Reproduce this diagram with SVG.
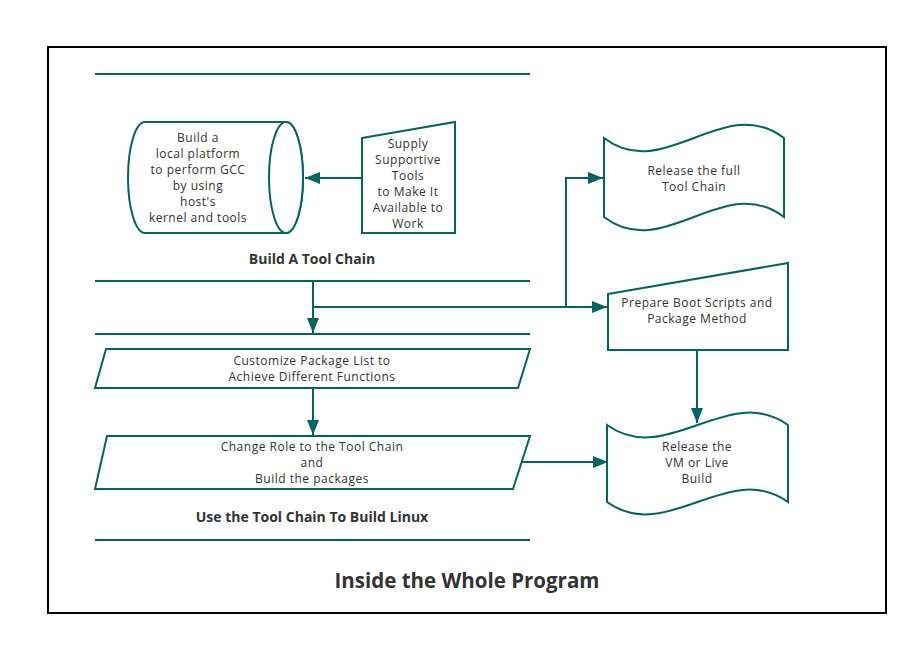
<svg xmlns="http://www.w3.org/2000/svg" width="918" height="646" viewBox="0 0 918 646">
<defs>
<style>
.s{fill:#fff;stroke:#00665f;stroke-width:2}
.ln{fill:none;stroke:#00665f;stroke-width:2}
.t{font-family:"Open Sans","Noto Sans",sans-serif;font-size:12px;letter-spacing:0.5px;fill:#333;text-anchor:middle}
.b{font-family:"Open Sans","Noto Sans",sans-serif;font-size:14px;font-weight:bold;fill:#333;text-anchor:middle}
</style>
<marker id="ah" markerUnits="userSpaceOnUse" markerWidth="16" markerHeight="12" refX="15" refY="6" orient="auto">
<path d="M0,0 L15,6 L0,12 Z" fill="#00665f"/>
</marker>
</defs>
<rect width="918" height="646" fill="#fff"/>
<rect id="frame" x="48" y="47" width="838" height="566" fill="none" stroke="#000" stroke-width="2"/>
<g id="separators" class="ln">
<line x1="95" y1="74" x2="530" y2="74"/>
<line x1="95" y1="281" x2="530" y2="281"/>
<line x1="95" y1="334" x2="530" y2="334"/>
<line x1="95" y1="540" x2="530" y2="540"/>
</g>
<g id="cylinder">
<path class="s" d="M145,122 L286,122 A17,55.5 0 0 1 286,233 L145,233 A17,55.5 0 0 1 145,122 Z"/>
<ellipse class="s" cx="286" cy="177.5" rx="17" ry="55.5"/>
<text class="t"><tspan x="198" y="142">Build a</tspan><tspan x="198" y="158">local platform</tspan><tspan x="198" y="174">to perform GCC</tspan><tspan x="198" y="190">by using</tspan><tspan x="198" y="206">host's</tspan><tspan x="198" y="222">kernel and tools</tspan></text>
</g>
<g id="supply">
<path class="s" d="M362,138 L455,122 L455,233 L362,233 Z"/>
<text class="t"><tspan x="408" y="148">Supply</tspan><tspan x="408" y="164">Supportive</tspan><tspan x="408" y="180">Tools</tspan><tspan x="408" y="196">to Make It</tspan><tspan x="408" y="212">Available to</tspan><tspan x="408" y="228">Work</tspan></text>
</g>
<text id="lane1" class="b" x="312" y="264">Build A Tool Chain</text>
<g id="release-full">
<path class="s" d="M604,138 C664,184 724,92 784,138 L784,217 C724,171 664,263 604,217 Z"/>
<text class="t"><tspan x="694" y="175">Release the full</tspan><tspan x="694" y="191">Tool Chain</tspan></text>
</g>
<g id="prepare">
<path class="s" d="M608,294 L788,263 L788,350 L608,350 Z"/>
<text class="t"><tspan x="697" y="307">Prepare Boot Scripts and</tspan><tspan x="697" y="323">Package Method</tspan></text>
</g>
<g id="release-vm">
<path class="s" d="M607,425 C667,468 728,382 788,425 L788,502 C728,459 667,545 607,502 Z"/>
<text class="t"><tspan x="697" y="451">Release the</tspan><tspan x="697" y="467">VM or Live</tspan><tspan x="697" y="483">Build</tspan></text>
</g>
<g id="customize">
<path class="s" d="M106,349 L530,349 L518,388 L95,388 Z"/>
<text class="t"><tspan x="312" y="365">Customize Package List to</tspan><tspan x="312" y="381">Achieve Different Functions</tspan></text>
</g>
<g id="change-role">
<path class="s" d="M107,436 L530,436 L513,489 L95,489 Z"/>
<text class="t"><tspan x="312" y="451">Change Role to the Tool Chain</tspan><tspan x="312" y="467">and</tspan><tspan x="312" y="483">Build the packages</tspan></text>
</g>
<text id="lane2" class="b" x="312" y="522">Use the Tool Chain To Build Linux</text>
<text id="title" class="b" x="467" y="588" style="font-size:20.5px">Inside the Whole Program</text>
<g id="connectors" class="ln">
<line x1="362" y1="178" x2="305" y2="178" marker-end="url(#ah)"/>
<line x1="313" y1="281" x2="313" y2="333" marker-end="url(#ah)"/>
<line x1="313" y1="307" x2="607" y2="307" marker-end="url(#ah)"/>
<polyline points="566,307 566,178 603,178" marker-end="url(#ah)"/>
<line x1="697" y1="350" x2="697" y2="423" marker-end="url(#ah)"/>
<line x1="313" y1="388" x2="313" y2="435" marker-end="url(#ah)"/>
<line x1="521" y1="462" x2="608" y2="462" marker-end="url(#ah)"/>
</g>
</svg>
